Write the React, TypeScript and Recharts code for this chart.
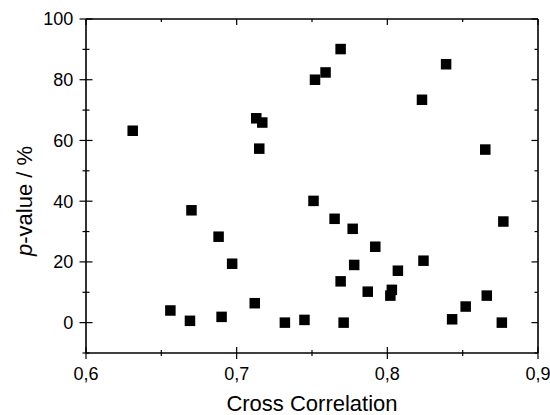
import React from 'react';
import { ScatterChart, Scatter, XAxis, YAxis } from 'recharts';

const xValues = [
  0.631, 0.656, 0.669, 0.670, 0.688, 0.690, 0.697, 0.712, 0.713, 0.717, 0.715,
  0.732, 0.745, 0.752, 0.759, 0.769, 0.751, 0.765, 0.769, 0.771, 0.777, 0.778,
  0.787, 0.792, 0.803, 0.802, 0.807, 0.824, 0.823, 0.839, 0.843, 0.852, 0.866,
  0.865, 0.876, 0.877,
];
const yValues = [
  63.2, 4.0, 0.6, 37.0, 28.3, 1.9, 19.4, 6.4, 67.3, 65.9, 57.3,
  0.0, 0.9, 80.0, 82.4, 90.1, 40.1, 34.2, 13.6, 0.0, 30.9, 19.0,
  10.2, 25.0, 10.8, 8.9, 17.1, 20.4, 73.4, 85.1, 1.1, 5.3, 8.9,
  57.0, 0.0, 33.3,
];
const xTicks = [0.6, 0.65, 0.7, 0.75, 0.8, 0.85, 0.9];
const yTicks = [-10, 0, 10, 20, 30, 40, 50, 60, 70, 80, 90, 100];
const xTitle = 'Cross Correlation';
const yTitleItalic = 'p';
const yTitleRest = '-value / %';

const data = xValues.map((x, i) => ({ x, y: yValues[i] }));

const FONT = '"Liberation Sans", Arial, sans-serif';

const isMajorX = (v: number) => Math.abs(Math.round(v * 10) - v * 10) < 1e-6;
const isMajorY = (v: number) => v % 20 === 0;

const BottomTick = (props: any) => {
  const { x, y, payload } = props;
  const v = payload.value;
  const major = isMajorX(v);
  const len = major ? 6 : 3;
  return (
    <g>
      <line x1={x} x2={x} y1={y - len} y2={y + len} stroke="#000" strokeWidth={1.2} />
      {major && (
        <text x={x} y={y + 27} textAnchor="middle" fontSize={18} fontFamily={FONT} fill="#000">
          {v.toFixed(1).replace('.', ',')}
        </text>
      )}
    </g>
  );
};

const TopTick = (props: any) => {
  const { x, y, payload } = props;
  const major = isMajorX(payload.value);
  const len = major ? 6 : 3;
  return <line x1={x} x2={x} y1={y} y2={y + len} stroke="#000" strokeWidth={1.2} />;
};

const LeftTick = (props: any) => {
  const { x, y, payload } = props;
  const v = payload.value;
  const major = isMajorY(v);
  const len = major ? 6.5 : 3.5;
  return (
    <g>
      <line x1={x - len} x2={x + len} y1={y} y2={y} stroke="#000" strokeWidth={1.2} />
      {major && (
        <text x={x - 12.7} y={y} dy="0.36em" textAnchor="end" fontSize={18} fontFamily={FONT} fill="#000">
          {String(v)}
        </text>
      )}
    </g>
  );
};

const RightTick = (props: any) => {
  const { x, y, payload } = props;
  const major = isMajorY(payload.value);
  const len = major ? 6.5 : 3.5;
  return <line x1={x - len} x2={x} y1={y} y2={y} stroke="#000" strokeWidth={1.2} />;
};

const SquareShape = (props: any) => {
  const { cx, cy } = props;
  const s = 10.5;
  return <rect x={cx - s / 2} y={cy - s / 2} width={s} height={s} fill="#000" />;
};

const YTitle = () => (
  <text
    x={32}
    y={201}
    transform="rotate(-90, 32, 201)"
    textAnchor="middle"
    fontSize={22}
    fontFamily={FONT}
    fill="#000"
  >
    <tspan fontStyle="italic">{yTitleItalic}</tspan>
    <tspan>{yTitleRest}</tspan>
  </text>
);

const XTitle = (props: any) => {
  const vb = props.viewBox || { x: 86, width: 452, y: 353, height: 62 };
  const cx = vb.x + vb.width / 2;
  return (
    <text x={cx} y={411} textAnchor="middle" fontSize={22} fontFamily={FONT} fill="#000">
      {xTitle}
    </text>
  );
};

const axisLine = { stroke: '#000', strokeWidth: 1.6 };

export default function App() {
  return (
    <div style={{ position: 'absolute', left: 0, top: 0, width: 550, height: 415, background: '#fff' }}>
      <ScatterChart width={550} height={415} margin={{ top: 18, right: 11, bottom: 0, left: 0 }}>
        <XAxis
          xAxisId="b"
          dataKey="x"
          type="number"
          domain={[0.6, 0.9]}
          ticks={xTicks}
          interval={0}
          allowDataOverflow
          height={62}
          tickSize={0}
          tickMargin={0}
          tickLine={false}
          axisLine={axisLine}
          tick={<BottomTick />}
          label={<XTitle />}
        />
        <XAxis
          xAxisId="t"
          orientation="top"
          dataKey="x"
          type="number"
          domain={[0.6, 0.9]}
          ticks={xTicks}
          interval={0}
          allowDataOverflow
          height={1}
          tickSize={0}
          tickMargin={0}
          tickLine={false}
          axisLine={axisLine}
          tick={<TopTick />}
        />
        <YAxis
          yAxisId="l"
          dataKey="y"
          type="number"
          domain={[-10, 100]}
          ticks={yTicks}
          interval={0}
          allowDataOverflow
          width={86}
          tickSize={0}
          tickMargin={0}
          tickLine={false}
          axisLine={axisLine}
          tick={<LeftTick />}
          label={<YTitle />}
        />
        <YAxis
          yAxisId="r"
          orientation="right"
          dataKey="y"
          type="number"
          domain={[-10, 100]}
          ticks={yTicks}
          interval={0}
          allowDataOverflow
          width={1}
          tickSize={0}
          tickMargin={0}
          tickLine={false}
          axisLine={axisLine}
          tick={<RightTick />}
        />
        <Scatter
          data={data}
          xAxisId="b"
          yAxisId="l"
          shape={<SquareShape />}
          isAnimationActive={false}
        />
      </ScatterChart>
    </div>
  );
}
